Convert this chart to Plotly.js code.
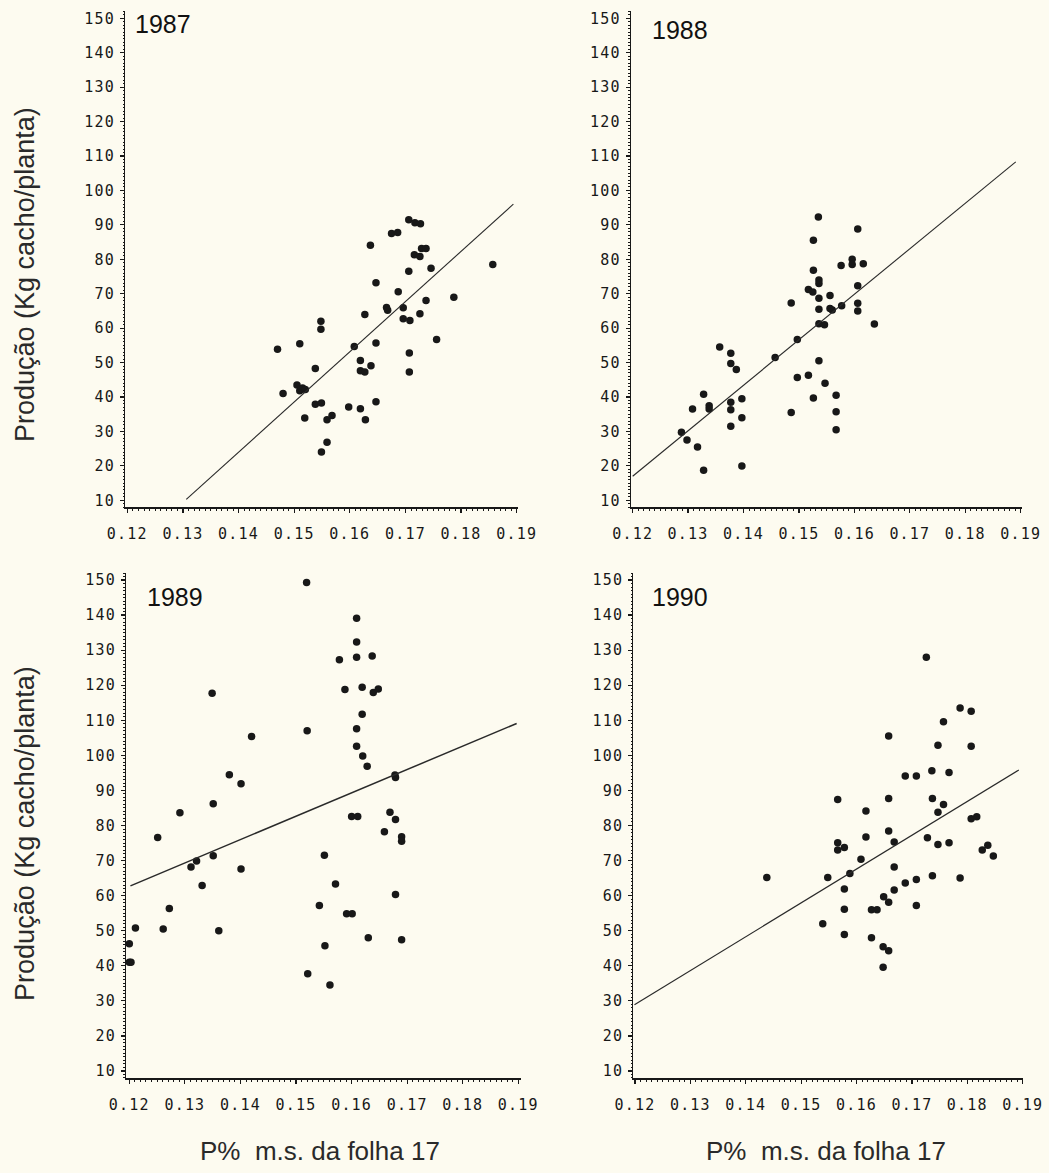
<!DOCTYPE html>
<html>
<head>
<meta charset="utf-8">
<script src="https://cdn.plot.ly/plotly-3.0.1.min.js"></script>
<style>
  html, body { margin: 0; padding: 0; background: #fdfbf0; }
  #chart { width: 1049px; height: 1173px; }
  .xaxislayer-above text, .yaxislayer-above text { letter-spacing: 1.2px; }
</style>
</head>
<body>
<div id="chart"></div>
<script>
// ---------------- data ----------------
const years = ['1987', '1988', '1989', '1990'];

const x1987 = [0.147,0.148,0.151,0.1505,0.151,0.1515,0.152,0.1538,0.1519,0.1538,0.1549,0.1548,0.1548,0.1559,0.1549,0.1559,0.1568,0.1598,0.1608,0.1619,0.1619,0.1619,0.1627,0.1638,0.1628,0.1627,0.1637,0.1647,0.1647,0.1647,0.1666,0.1668,0.1675,0.1686,0.1687,0.1696,0.1696,0.1708,0.1706,0.1706,0.1717,0.1727,0.1716,0.1726,0.1729,0.1737,0.1707,0.1707,0.1726,0.1737,0.1746,0.1756,0.1787,0.1857];
const y1987 = [53.9,41,55.5,43.5,41.8,42.6,42.2,48.3,33.9,37.9,38.3,62,59.7,26.9,24,33.4,34.6,37.1,54.7,36.6,50.6,47.6,47.3,49.1,33.4,64,84.1,73.2,55.7,38.6,66,65.2,87.5,87.8,70.6,65.9,62.7,62.2,76.5,91.5,90.6,90.3,81.3,80.8,83.1,83.1,52.8,47.3,64.2,68,77.4,56.7,69,78.5];

const x1988 = [0.1288,0.1298,0.1308,0.1317,0.1328,0.1328,0.1338,0.1338,0.1357,0.1377,0.1377,0.1387,0.1377,0.1377,0.1377,0.1397,0.1397,0.1397,0.1457,0.1486,0.1486,0.1497,0.1497,0.1517,0.1517,0.1525,0.1526,0.1526,0.1526,0.1535,0.1536,0.1536,0.1536,0.1536,0.1536,0.1546,0.1536,0.1547,0.1556,0.1556,0.156,0.1567,0.1567,0.1567,0.1576,0.1577,0.1596,0.1596,0.1606,0.1606,0.1606,0.1606,0.1616,0.1636];
const y1988 = [29.8,27.5,36.5,25.5,40.8,18.7,37.5,36.5,54.5,52.7,49.7,48,38.5,36.3,31.5,39.5,34,20,51.5,67.3,35.5,56.7,45.7,46.3,71.2,70.5,85.5,76.8,39.7,92.3,74,73,68.7,65.5,61.3,61,50.5,44,69.5,65.7,65.3,40.5,35.7,30.5,78.2,66.5,80,78.5,88.8,72.3,67.2,65,78.7,61.2];

const x1989 = [0.12,0.12,0.1203,0.1211,0.1251,0.1261,0.1272,0.1291,0.1311,0.1321,0.1331,0.1349,0.1351,0.1351,0.1361,0.138,0.1401,0.1401,0.142,0.1519,0.152,0.1521,0.1542,0.1551,0.1552,0.1561,0.1571,0.1578,0.1588,0.1591,0.1601,0.16,0.1611,0.1609,0.1609,0.1609,0.1609,0.1609,0.1619,0.1619,0.162,0.1628,0.163,0.1637,0.1639,0.1648,0.1659,0.1669,0.1678,0.1679,0.1679,0.1679,0.169,0.169,0.169];
const y1989 = [46.3,41,41,50.8,76.6,50.5,56.3,83.6,68.2,69.9,62.9,117.7,86.2,71.4,50,94.5,91.9,67.6,105.4,149.3,107,37.7,57.2,71.5,45.7,34.5,63.3,127.3,118.8,54.8,54.8,82.6,82.6,139.1,132.3,128,107.6,102.6,119.4,111.7,99.8,96.9,48,128.3,117.9,118.9,78.2,83.8,94.4,93.7,81.7,60.3,76.8,75.5,47.4];

const x1990 = [0.1438,0.1539,0.1548,0.1566,0.1566,0.1566,0.1578,0.1578,0.1578,0.1578,0.1588,0.1608,0.1617,0.1617,0.1627,0.1637,0.1627,0.1648,0.1658,0.1648,0.1649,0.1658,0.1658,0.1658,0.1658,0.1668,0.1668,0.1668,0.1688,0.1688,0.1708,0.1708,0.1708,0.1726,0.1728,0.1736,0.1737,0.1737,0.1747,0.1747,0.1747,0.1757,0.1757,0.1767,0.1767,0.1787,0.1787,0.1807,0.1807,0.1807,0.1817,0.1827,0.1837,0.1847];
const y1990 = [65.2,52,65.2,87.4,75.1,73,73.7,61.9,56.1,48.9,66.3,70.4,84.1,76.7,56,56,48,45.4,44.3,39.6,59.7,58.1,105.5,87.7,78.4,75.3,68.2,61.6,94.1,63.6,94.1,64.6,57.2,128,76.5,95.6,87.7,65.7,102.9,83.8,74.6,109.6,86,95.1,75.1,113.5,65,112.6,102.6,81.9,82.5,73,74.4,71.3];

// regression lines: [intercept, slope] and x extent
const fitCoef1987 = [-180.05, 1457.5];  const fitX1987 = [0.1306, 0.1894];
const fitCoef1988 = [-141.56, 1321.3];  const fitX1988 = [0.1200, 0.1891];
const fitCoef1989 = [-17.28, 666.2];    const fitX1989 = [0.1202, 0.1897];
const fitCoef1990 = [-86.66, 963.9];    const fitX1990 = [0.1199, 0.1893];

const xTickVals = [0.12,0.13,0.14,0.15,0.16,0.17,0.18,0.19];
const xTickText = ['0.12','0.13','0.14','0.15','0.16','0.17','0.18','0.19'];
const yTickVals = [10,20,30,40,50,60,70,80,90,100,110,120,130,140,150];
const yTickText = ['10','20','30','40','50','60','70','80','90','100','110','120','130','140','150'];

const yTitle = 'Produção (Kg cacho/planta)';
const xTitle = 'P%\u00a0\u00a0m.s. da folha 17';

// ---------------- build ----------------
const ink = '#181818';
const bg = '#fdfbf0';
const panels = [
  {xs: x1987, ys: y1987, coef: fitCoef1987, fx: fitX1987, xa: 'x',  ya: 'y',  lw: 1.1},
  {xs: x1988, ys: y1988, coef: fitCoef1988, fx: fitX1988, xa: 'x2', ya: 'y2', lw: 1.1},
  {xs: x1989, ys: y1989, coef: fitCoef1989, fx: fitX1989, xa: 'x3', ya: 'y3', lw: 1.5},
  {xs: x1990, ys: y1990, coef: fitCoef1990, fx: fitX1990, xa: 'x4', ya: 'y4', lw: 1.2}
];

const traces = [];
panels.forEach((p, i) => {
  traces.push({
    type: 'scatter', mode: 'markers', x: p.xs, y: p.ys,
    xaxis: p.xa, yaxis: p.ya, name: years[i],
    marker: {size: 7.5, color: ink, line: {width: 0}},
    hoverinfo: 'x+y'
  });
  traces.push({
    type: 'scatter', mode: 'lines', x: p.fx,
    y: p.fx.map(v => p.coef[0] + p.coef[1] * v),
    xaxis: p.xa, yaxis: p.ya, name: 'ajuste ' + years[i],
    line: {color: '#2a2a2a', width: p.lw}, hoverinfo: 'skip'
  });
});

function xAxis(domain, range, anchor) {
  return {
    domain: domain, range: range, anchor: anchor,
    tickmode: 'array', tickvals: xTickVals, ticktext: xTickText,
    ticks: 'outside', ticklen: 4, tickwidth: 1.2, tickcolor: ink,
    showline: true, linewidth: 2, linecolor: ink,
    showgrid: false, zeroline: false,
    tickfont: {family: 'DejaVu Sans Mono, monospace', size: 15, color: ink},
    ticklabelstandoff: 8,
    minor: {tickmode: 'linear', tick0: 0.12, dtick: 0.001, ticks: 'outside', ticklen: 2, tickwidth: 1, tickcolor: ink, showgrid: false}
  };
}
function yAxis(domain, anchor) {
  return {
    domain: domain, range: [8, 152], anchor: anchor,
    tickmode: 'array', tickvals: yTickVals, ticktext: yTickText,
    ticks: 'outside', ticklen: 4, tickwidth: 1.2, tickcolor: ink,
    showline: true, linewidth: 1, linecolor: ink,
    showgrid: false, zeroline: false,
    tickfont: {family: 'DejaVu Sans Mono, monospace', size: 15, color: ink},
    ticklabelstandoff: 2,
    minor: {tickmode: 'linear', tick0: 10, dtick: 1, ticks: 'outside', ticklen: 1.5, tickwidth: 1, tickcolor: ink, showgrid: false}
  };
}

const topDom = [0.5676, 0.9903];
const botDom = [0.0810, 0.5115];

const yearFont = {family: 'Liberation Sans, Arial, sans-serif', size: 25, color: '#111111'};
const titleFont = {family: 'Liberation Sans, Arial, sans-serif', size: 27, color: '#2a2a2a'};
const xTitleFont = {family: 'Liberation Sans, Arial, sans-serif', size: 26, color: '#2a2a2a'};

const layout = {
  width: 1049, height: 1173,
  margin: {l: 0, r: 0, t: 0, b: 0},
  paper_bgcolor: bg, plot_bgcolor: bg,
  showlegend: false,
  xaxis:  xAxis([0.1192, 0.4941], [0.11959, 0.19029], 'y'),
  yaxis:  yAxis(topDom, 'x'),
  xaxis2: xAxis([0.6012, 0.9740], [0.11964, 0.19018], 'y2'),
  yaxis2: yAxis(topDom, 'x2'),
  xaxis3: xAxis([0.1201, 0.4964], [0.11940, 0.19043], 'y3'),
  yaxis3: yAxis(botDom, 'x3'),
  xaxis4: xAxis([0.6037, 0.9755], [0.11969, 0.19011], 'y4'),
  yaxis4: yAxis(botDom, 'x4'),
  annotations: [
    {text: years[0], xref: 'paper', yref: 'paper', x: 0.1268, y: 0.9795, xanchor: 'left', yanchor: 'middle', showarrow: false, font: yearFont},
    {text: years[1], xref: 'paper', yref: 'paper', x: 0.6196, y: 0.9744, xanchor: 'left', yanchor: 'middle', showarrow: false, font: yearFont},
    {text: years[2], xref: 'paper', yref: 'paper', x: 0.1382, y: 0.4910, xanchor: 'left', yanchor: 'middle', showarrow: false, font: yearFont},
    {text: years[3], xref: 'paper', yref: 'paper', x: 0.6196, y: 0.4910, xanchor: 'left', yanchor: 'middle', showarrow: false, font: yearFont},
    {text: yTitle, xref: 'paper', yref: 'paper', x: 0.0238, y: 0.7664, xanchor: 'center', yanchor: 'middle', textangle: -90, showarrow: false, font: titleFont},
    {text: yTitle, xref: 'paper', yref: 'paper', x: 0.0238, y: 0.2899, xanchor: 'center', yanchor: 'middle', textangle: -90, showarrow: false, font: titleFont},
    {text: xTitle, xref: 'paper', yref: 'paper', x: 0.3050, y: 0.0190, xanchor: 'center', yanchor: 'middle', showarrow: false, font: xTitleFont},
    {text: xTitle, xref: 'paper', yref: 'paper', x: 0.7870, y: 0.0190, xanchor: 'center', yanchor: 'middle', showarrow: false, font: xTitleFont}
  ]
};

Plotly.newPlot('chart', traces, layout, {staticPlot: true, displayModeBar: false});
</script>
</body>
</html>
